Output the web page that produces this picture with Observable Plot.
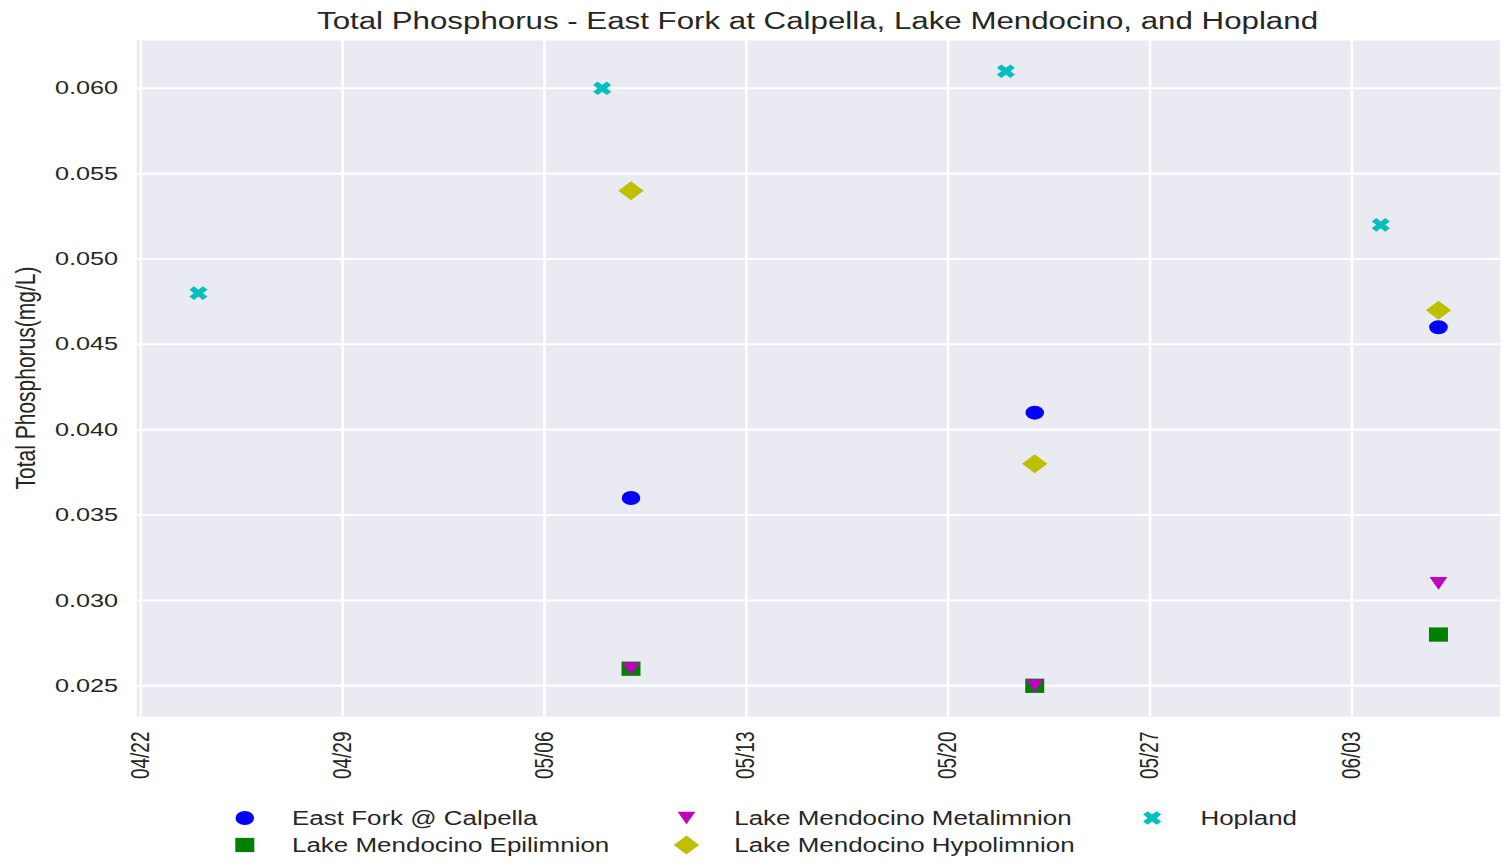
<!DOCTYPE html>
<html>
<head>
<meta charset="utf-8">
<script src="https://cdn.jsdelivr.net/npm/d3@7"></script>
<script src="https://cdn.jsdelivr.net/npm/@observablehq/plot@0.6"></script>
<style>
  html, body { margin: 0; padding: 0; background: #ffffff; }
  body { width: 1502px; height: 865px; overflow: hidden; position: relative; font-family: "Liberation Sans", Arial, sans-serif; color: #262626; }
  #stage { position: absolute; left: 0; top: 0; width: 1129px; height: 865px; transform-origin: 0 0; }
  #title { position: absolute; left: 102px; width: 1025px; top: 5px; text-align: center; font-size: 23.5px; line-height: 32px; white-space: nowrap; }
  #ylabel { position: absolute; width: 400px; left: -181.5px; top: 366px; height: 24px; line-height: 24px; font-size: 21px; text-align: center; transform: rotate(-90deg); transform-origin: 50% 50%; white-space: nowrap; }
  #chart { position: absolute; left: 0; top: 40px; }
  .leg-text { position: absolute; font-size: 19.5px; line-height: 22px; white-space: nowrap; }
  .leg-mark { position: absolute; width: 30px; height: 24px; overflow: visible; }
</style>
</head>
<body>
<div id="stage">
  <div id="title">Total Phosphorus - East Fork at Calpella, Lake Mendocino, and Hopland</div>
  <div id="ylabel">Total Phosphorus(mg/L)</div>
  <div id="chart"></div>
  <div id="legend"></div>
</div>
<script>
// ---------------- data ----------------
const seriesNames = [
  "East Fork @ Calpella",
  "Lake Mendocino Epilimnion",
  "Lake Mendocino Metalimnion",
  "Lake Mendocino Hypolimnion",
  "Hopland"
];
const lakeDates = ["2019-05-09", "2019-05-23", "2019-06-06"];
const hoplandDates = ["2019-04-24", "2019-05-08", "2019-05-22", "2019-06-04"];
const eastFork = [0.036, 0.041, 0.046];
const epilimnion = [0.026, 0.025, 0.028];
const metalimnion = [0.026, 0.025, 0.031];
const hypolimnion = [0.054, 0.038, 0.047];
const hopland = [0.048, 0.060, 0.061, 0.052];
const xTickDates = ["2019-04-22", "2019-04-29", "2019-05-06", "2019-05-13", "2019-05-20", "2019-05-27", "2019-06-03"];
const yTicks = [0.025, 0.030, 0.035, 0.040, 0.045, 0.050, 0.055, 0.060];

// ---------------- styles ----------------
const S = 1502 / 1129;
document.getElementById("stage").style.transform = `scale(${S}, 1)`;

const colors = ["#0000FF", "#008000", "#BF00BF", "#BFBF00", "#00BFBF"];

function rOf(size) { return Math.sqrt(size / Math.PI); }
const symCircle = { draw(c, size) { const r = rOf(size); c.moveTo(r, 0); c.arc(0, 0, r, 0, 2 * Math.PI); c.closePath(); } };
const symSquare = { draw(c, size) { const r = rOf(size) * 1.02; c.moveTo(-r, -r); c.lineTo(r, -r); c.lineTo(r, r); c.lineTo(-r, r); c.closePath(); } };
const symTriDown = { draw(c, size) { const r = rOf(size); c.moveTo(-0.95 * r, -0.9 * r); c.lineTo(0.95 * r, -0.9 * r); c.lineTo(0, 0.9 * r); c.closePath(); } };
const symDiamond = { draw(c, size) { const r = rOf(size) * 1.36; c.moveTo(0, -r); c.lineTo(r, 0); c.lineTo(0, r); c.lineTo(-r, 0); c.closePath(); } };
const plusPts = [[-1,-3],[1,-3],[1,-1],[3,-1],[3,1],[1,1],[1,3],[-1,3],[-1,1],[-3,1],[-3,-1],[-1,-1]];
const symX = { draw(c, size) {
  const k = rOf(size) * 0.97 / (4 / Math.SQRT2);
  plusPts.forEach(([x, y], i) => {
    const px = (x - y) / Math.SQRT2 * k, py = (x + y) / Math.SQRT2 * k;
    if (i === 0) c.moveTo(px, py); else c.lineTo(px, py);
  });
  c.closePath();
} };
const symbols = [symCircle, symSquare, symTriDown, symDiamond, symX];

// ---------------- table ----------------
const parse = (s) => new Date(s + "T00:00:00Z");
const seriesValues = [eastFork, epilimnion, metalimnion, hypolimnion, hopland];
const seriesDates = [lakeDates, lakeDates, lakeDates, lakeDates, hoplandDates];
const tables = seriesValues.map((vals, i) => vals.map((v, j) => ({ series: seriesNames[i], date: parse(seriesDates[i][j]), value: v })));

const grid = { stroke: "#ffffff", strokeOpacity: 1, strokeWidth: 2 };
const tickDates = xTickDates.map(parse);

const chart = Plot.plot({
  width: 1129,
  height: 746,
  marginTop: 0,
  marginBottom: 70,
  marginLeft: 102.3,
  marginRight: 1.9,
  style: { fontFamily: '"Liberation Sans", Arial, sans-serif', color: "#262626", background: "transparent", overflow: "visible" },
  x: { type: "utc", domain: [new Date("2019-04-21T20:40:00Z"), new Date("2019-06-08T03:20:00Z")] },
  y: { domain: [0.0232, 0.0628] },
  marks: [
    Plot.frame({ fill: "#EAEAF2", stroke: null }),
    Plot.gridX(tickDates, grid),
    Plot.gridY(yTicks, grid),
    Plot.axisX(tickDates, { tickFormat: d3.utcFormat("%m/%d"), tickRotate: -90, tickSize: 0, tickPadding: 15, fontSize: 19, label: null }),
    Plot.axisY(yTicks, { tickFormat: d3.format(".3f"), tickSize: 0, tickPadding: 14, fontSize: 19, label: null }),
    ...tables.map((t, i) => Plot.dot(t, { x: "date", y: "value", r: 7, symbol: symbols[i], fill: colors[i], stroke: null }))
  ]
});
document.getElementById("chart").appendChild(chart);

// ---------------- legend ----------------
const legendMarkX = [184.2, 515.8, 866.2];
const legendTextX = [219.5, 551.9, 902.3];
const legendRowY = [818, 845];
const legend = d3.select("#legend");
seriesNames.forEach((name, i) => {
  const col = Math.floor(i / 2), row = i % 2;
  const cx = legendMarkX[col], cy = legendRowY[row];
  const svg = legend.append("svg").attr("class", "leg-mark")
    .style("left", (cx - 15) + "px").style("top", (cy - 12) + "px")
    .attr("width", 30).attr("height", 24);
  svg.append("path")
    .attr("transform", "translate(15,12)")
    .attr("d", d3.symbol(symbols[i], 49 * Math.PI)())
    .attr("fill", colors[i]);
  legend.append("div").attr("class", "leg-text")
    .style("left", legendTextX[col] + "px").style("top", (cy - 11) + "px")
    .text(name);
});
</script>
</body>
</html>
